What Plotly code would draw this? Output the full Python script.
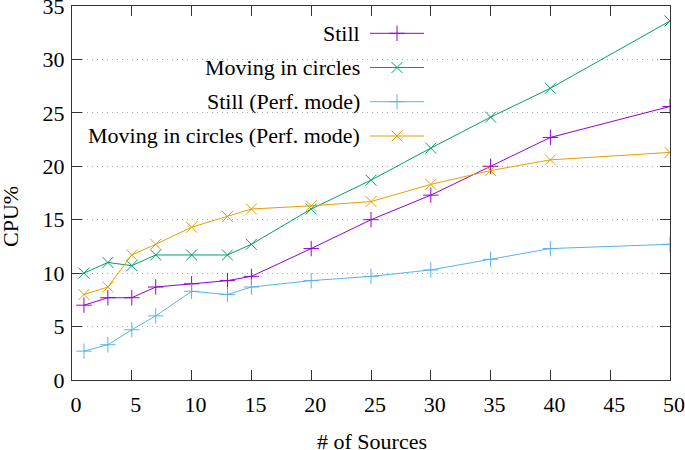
import plotly.graph_objects as go

x_sources = [1, 3, 5, 7, 10, 13, 15, 20, 25, 30, 35, 40, 50]
still = [7.0, 7.7, 7.7, 8.7, 9.0, 9.3, 9.7, 12.3, 15.0, 17.3, 20.0, 22.7, 25.6]
moving = [10.0, 11.0, 10.7, 11.7, 11.7, 11.7, 12.7, 16.0, 18.7, 21.7, 24.6, 27.3, 33.6]
still_perf = [2.7, 3.3, 4.7, 6.0, 8.3, 8.0, 8.7, 9.3, 9.7, 10.3, 11.3, 12.3, 12.7]
moving_perf = [8.0, 8.7, 11.7, 12.7, 14.3, 15.3, 16.0, 16.3, 16.7, 18.3, 19.6, 20.6, 21.3]

x_ticks = [0, 5, 10, 15, 20, 25, 30, 35, 40, 45, 50]
y_ticks = [0, 5, 10, 15, 20, 25, 30, 35]

series_names = ["Still", "Moving in circles", "Still (Perf. mode)", "Moving in circles (Perf. mode)"]
series_vals = [still, moving, still_perf, moving_perf]
colors = ["#9400d3", "#009e73", "#56b4e9", "#e69f00"]
symbols = ["cross-thin", "x-thin", "cross-thin", "x-thin"]

FONT = "Liberation Serif"
FS = 22
W, H = 685, 450
L, R, T, B = 72, 670, 6, 380
fig = go.Figure()

for name, vals, c, s in zip(series_names, series_vals, colors, symbols):
    fig.add_trace(go.Scatter(
        x=x_sources, y=vals, mode="lines+markers", name=name,
        line=dict(color=c, width=1),
        marker=dict(symbol=s, size=11, line=dict(color=c, width=1), color=c),
        showlegend=False))

# Key samples on a pixel-coordinate overlay axis
leg_y = [33.3, 67.5, 101.7, 136.0]
for name, c, s, yy in zip(series_names, colors, symbols, leg_y):
    fig.add_trace(go.Scatter(
        x=[370, 424], y=[yy, yy], mode="lines", line=dict(color=c, width=1),
        showlegend=False, xaxis="x2", yaxis="y2", hoverinfo="skip"))
    fig.add_trace(go.Scatter(
        x=[397], y=[yy], mode="markers",
        marker=dict(symbol=s, size=11, line=dict(color=c, width=1), color=c),
        showlegend=False, xaxis="x2", yaxis="y2", hoverinfo="skip"))
    fig.add_annotation(x=(362 - L) / (R - L), y=(B - yy) / (B - T), xref="paper", yref="paper",
                       text=name, showarrow=False, xanchor="right", yanchor="middle",
                       font=dict(family=FONT, size=FS, color="black"))

# opaque key box (covers the grid, under the traces)
fig.add_shape(type="rect", xref="paper", yref="paper",
              x0=0.002, x1=(435 - L) / (R - L), y0=(B - 152) / (B - T), y1=0.997,
              fillcolor="white", line=dict(width=0), layer="between")

axis_common = dict(showline=True, linecolor="#333", linewidth=1, mirror="ticks",
                   ticks="inside", ticklen=10, tickcolor="#333", tickwidth=1,
                   tickfont=dict(family=FONT, size=FS, color="black"),
                   zeroline=False, tickmode="array", ticklabeloverflow="allow")

fig.update_layout(
    width=W, height=H,
    margin=dict(l=L, r=W - R, t=T, b=H - B, autoexpand=False),
    plot_bgcolor="white", paper_bgcolor="white",
    xaxis=dict(range=[0, 50], tickvals=x_ticks, ticktext=[str(v) for v in x_ticks],
               showgrid=False, ticklabelstandoff=5, ticklabelshift=4, **axis_common),
    yaxis=dict(range=[0, 35], tickvals=y_ticks, ticktext=[str(v) for v in y_ticks],
               showgrid=True, gridcolor="#a8a8a8", griddash="1px,4px",
               gridwidth=1, ticklabelstandoff=2, **axis_common),
    xaxis2=dict(overlaying="x", range=[L, R], visible=False),
    yaxis2=dict(overlaying="y", range=[B, T], visible=False),
    showlegend=False,
)

fig.add_annotation(x=(372 - L) / (R - L), y=-(441 - B) / (B - T), xref="paper", yref="paper",
                   text="# of Sources", showarrow=False, xanchor="center", yanchor="middle",
                   font=dict(family=FONT, size=FS, color="black"))
fig.add_annotation(x=-(L - 10) / (R - L), y=(B - 217) / (B - T), xref="paper", yref="paper",
                   text="CPU%", showarrow=False, textangle=-90, xanchor="center", yanchor="middle",
                   font=dict(family=FONT, size=FS, color="black"))

fig.write_html("out.html", config={"displayModeBar": False},
               post_script="document.body.style.margin='0';document.body.style.overflow='hidden';")
